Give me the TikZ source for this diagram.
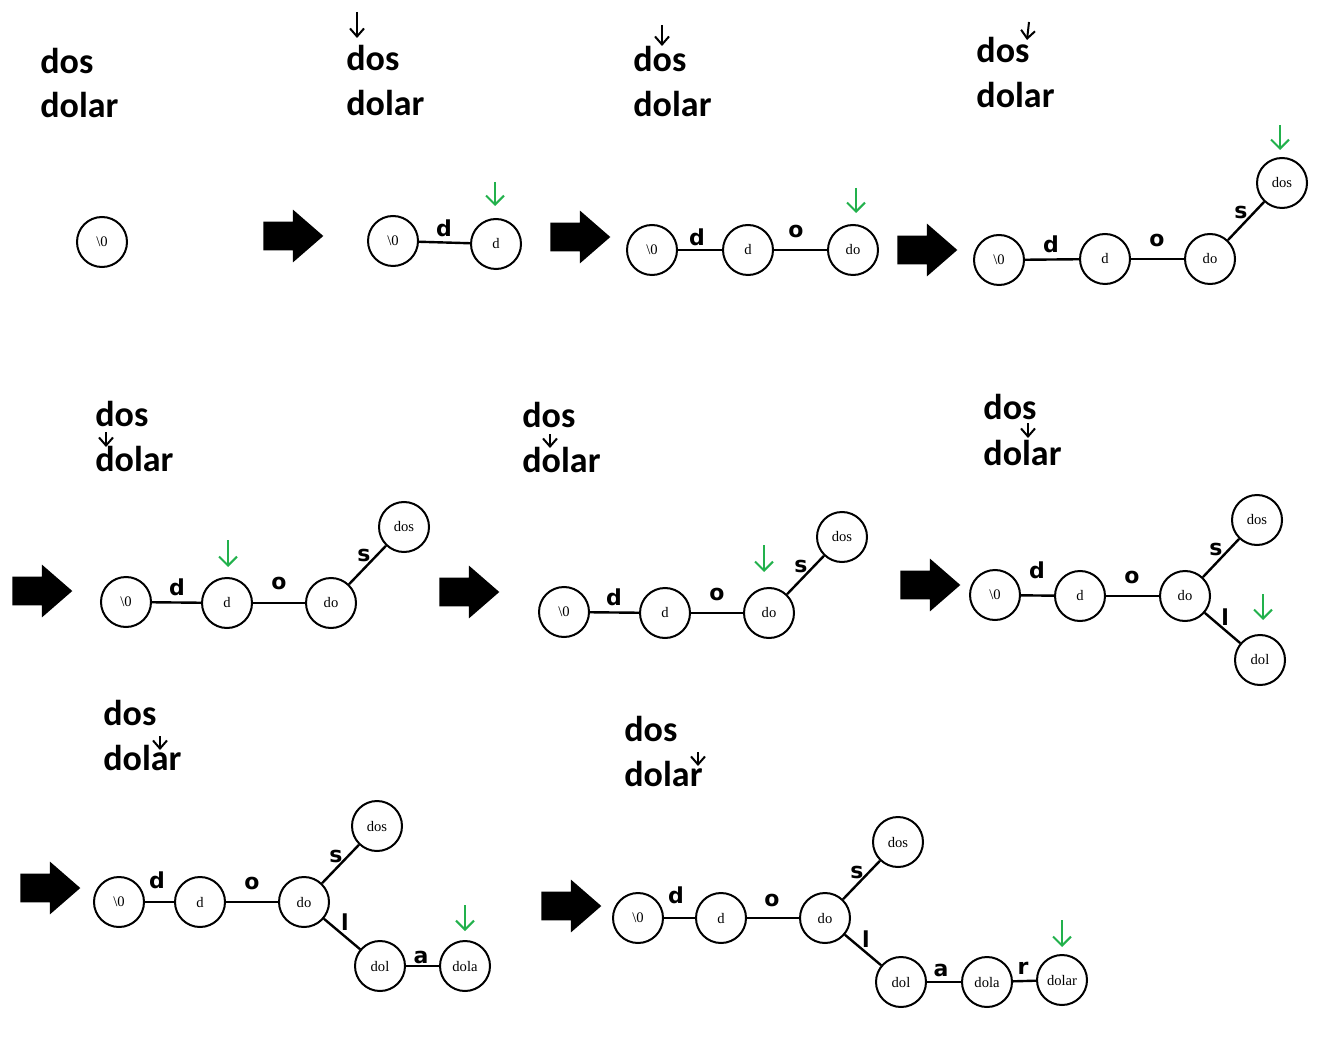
\documentclass[tikz,border=0pt]{standalone}
\usepackage{fontspec}
\usetikzlibrary{shapes,shapes.arrows}
\usetikzlibrary{arrows.meta}
\usetikzlibrary{positioning}
\newfontfamily\wordfont{Carlito}
\newfontfamily\keyfont{Liberation Serif}
\newfontfamily\handfont{DejaVu Sans}
\definecolor{paintgreen}{RGB}{34,177,76}

\begin{document}
\begin{tikzpicture}[x=0.5pt,y=-0.5pt]
\tikzset{trienode/.style={circle,draw,line width=1pt,minimum size=25pt,inner sep=0pt,font=\keyfont\fontsize{7.3}{8}\selectfont},
edgelabel/.style={inner sep=0pt,font=\handfont\bfseries\fontsize{11}{12}\selectfont},
trieedge/.style={line width=1.2pt},
word/.style={anchor=base west,inner sep=0pt,font=\wordfont\bfseries\fontsize{18}{20}\selectfont},
bigarrow/.style={single arrow,fill=black,inner xsep=0pt,inner ysep=7pt,minimum height=30pt,single arrow head extend=6pt,single arrow tip angle=82},
pointer/.style={line width=1pt,-{Straight Barb[length=4pt,width=7pt]}},
current/.style={line width=1pt,paintgreen,-{Straight Barb[length=4.5pt,width=9pt]}}}
\useasboundingbox (0,0) rectangle (1320,1042);

% step 1
\node[word](w1a) at (40,74){dos};
\node[word](w1b) at (40,118){dolar};
\node[trienode](e1) at (102,242){\textbackslash 0};
\node[bigarrow](a1) at (285,236){};

% step 2
\node[word](w2a) at (346,71){dos};
\node[word](w2b) at (346,116){dolar};
\draw[pointer](357,12) -- (357,38);
\node[trienode](e2) at (393,241){\textbackslash 0};
\node[trienode](d2) at (496,244){d};
\draw[trieedge](e2) -- (d2);
\node[edgelabel](l2d) at (444,228){d};
\draw[current](495,182) -- (495,206);
\node[bigarrow](a2) at (572,237){};

% step 3
\node[word](w3a) at (633,72){dos};
\node[word](w3b) at (633,117){dolar};
\draw[pointer](662,25) -- (662,46);
\node[trienode](e3) at (652,250){\textbackslash 0};
\node[trienode](d3) at (748,250){d};
\node[trienode](do3) at (853,250){do};
\draw[trieedge](e3) -- (d3);
\draw[trieedge](d3) -- (do3);
\node[edgelabel](l3d) at (697,237){d};
\node[edgelabel](l3o) at (796,231){o};
\draw[current](856,188) -- (856,213);
\node[bigarrow](a3) at (919,250){};

% step 4
\node[word](w4a) at (976,63){dos};
\node[word](w4b) at (976,108){dolar};
\draw[pointer](1029,22) -- (1027,40);
\node[trienode](e4) at (999,260){\textbackslash 0};
\node[trienode](d4) at (1105,259){d};
\node[trienode](do4) at (1210,259){do};
\node[trienode](dos4) at (1282,183){dos};
\draw[trieedge](e4) -- (d4);
\draw[trieedge](d4) -- (do4);
\draw[trieedge](do4) -- (dos4);
\node[edgelabel](l4d) at (1051,244){d};
\node[edgelabel](l4o) at (1157,240){o};
\node[edgelabel](l4s) at (1241,212){s};
\draw[current](1280,125) -- (1280,150);

% step 5
\node[bigarrow](a4) at (34,591){};
\node[word](w5a) at (95,426){dos};
\node[word](w5b) at (95,471){dolar};
\draw[pointer](106,432) -- (106,447);
\node[trienode](e5) at (126,602){\textbackslash 0};
\node[trienode](d5) at (227,603){d};
\node[trienode](do5) at (331,603){do};
\node[trienode](dos5) at (404,527){dos};
\draw[trieedge](e5) -- (d5);
\draw[trieedge](d5) -- (do5);
\draw[trieedge](do5) -- (dos5);
\node[edgelabel](l5d) at (177,587){d};
\node[edgelabel](l5o) at (279,583){o};
\node[edgelabel](l5s) at (364,555){s};
\draw[current](228,540) -- (228,567);

% step 6
\node[bigarrow](a5) at (461,592){};
\node[word](w6a) at (522,427){dos};
\node[word](w6b) at (522,472){dolar};
\draw[pointer](550,434) -- (550,448);
\node[trienode](e6) at (564,612){\textbackslash 0};
\node[trienode](d6) at (665,613){d};
\node[trienode](do6) at (769,613){do};
\node[trienode](dos6) at (842,537){dos};
\draw[trieedge](e6) -- (d6);
\draw[trieedge](d6) -- (do6);
\draw[trieedge](do6) -- (dos6);
\node[edgelabel](l6d) at (614,597){d};
\node[edgelabel](l6o) at (717,594){o};
\node[edgelabel](l6s) at (801,566){s};
\draw[current](764,545) -- (764,572);

% step 7
\node[bigarrow](a6) at (922,585){};
\node[word](w7a) at (983,420){dos};
\node[word](w7b) at (983,465){dolar};
\draw[pointer](1028,423) -- (1028,438);
\node[trienode](e7) at (995,595){\textbackslash 0};
\node[trienode](d7) at (1080,596){d};
\node[trienode](do7) at (1185,596){do};
\node[trienode](dos7) at (1257,520){dos};
\node[trienode](dol7) at (1260,660){dol};
\draw[trieedge](e7) -- (d7);
\draw[trieedge](d7) -- (do7);
\draw[trieedge](do7) -- (dos7);
\draw[trieedge](do7) -- (dol7);
\node[edgelabel](l7d) at (1037,570){d};
\node[edgelabel](l7o) at (1132,577){o};
\node[edgelabel](l7s) at (1216,549){s};
\node[edgelabel](l7l) at (1225,617){l};
\draw[current](1263,594) -- (1263,620);

% step 8
\node[bigarrow](a7) at (42,888){};
\node[word](w8a) at (103,725){dos};
\node[word](w8b) at (103,770){dolar};
\draw[pointer](160,736) -- (160,750);
\node[trienode](e8) at (119,902){\textbackslash 0};
\node[trienode](d8) at (200,902){d};
\node[trienode](do8) at (304,902){do};
\node[trienode](dos8) at (377,826){dos};
\node[trienode](dol8) at (380,966){dol};
\node[trienode](dola8) at (465,966){dola};
\draw[trieedge](e8) -- (d8);
\draw[trieedge](d8) -- (do8);
\draw[trieedge](do8) -- (dos8);
\draw[trieedge](do8) -- (dol8);
\draw[trieedge](dol8) -- (dola8);
\node[edgelabel](l8d) at (157,880){d};
\node[edgelabel](l8o) at (252,883){o};
\node[edgelabel](l8s) at (336,856){s};
\node[edgelabel](l8l) at (345,922){l};
\node[edgelabel](l8a) at (421,957){a};
\draw[current](465,905) -- (465,931);

% step 9
\node[bigarrow](a8) at (563,906){};
\node[word](w9a) at (624,741){dos};
\node[word](w9b) at (624,786){dolar};
\draw[pointer](698,752) -- (698,766);
\node[trienode](e9) at (638,918){\textbackslash 0};
\node[trienode](d9) at (721,918){d};
\node[trienode](do9) at (825,918){do};
\node[trienode](dos9) at (898,842){dos};
\node[trienode](dol9) at (901,982){dol};
\node[trienode](dola9) at (987,982){dola};
\node[trienode](dolar9) at (1062,980){dolar};
\draw[trieedge](e9) -- (d9);
\draw[trieedge](d9) -- (do9);
\draw[trieedge](do9) -- (dos9);
\draw[trieedge](do9) -- (dol9);
\draw[trieedge](dol9) -- (dola9);
\draw[trieedge](dola9) -- (dolar9);
\node[edgelabel](l9d) at (676,895){d};
\node[edgelabel](l9o) at (772,900){o};
\node[edgelabel](l9s) at (857,872){s};
\node[edgelabel](l9l) at (866,939){l};
\node[edgelabel](l9a) at (941,970){a};
\node[edgelabel](l9r) at (1023,968){r};
\draw[current](1062,920) -- (1062,947);
\end{tikzpicture}
\end{document}
